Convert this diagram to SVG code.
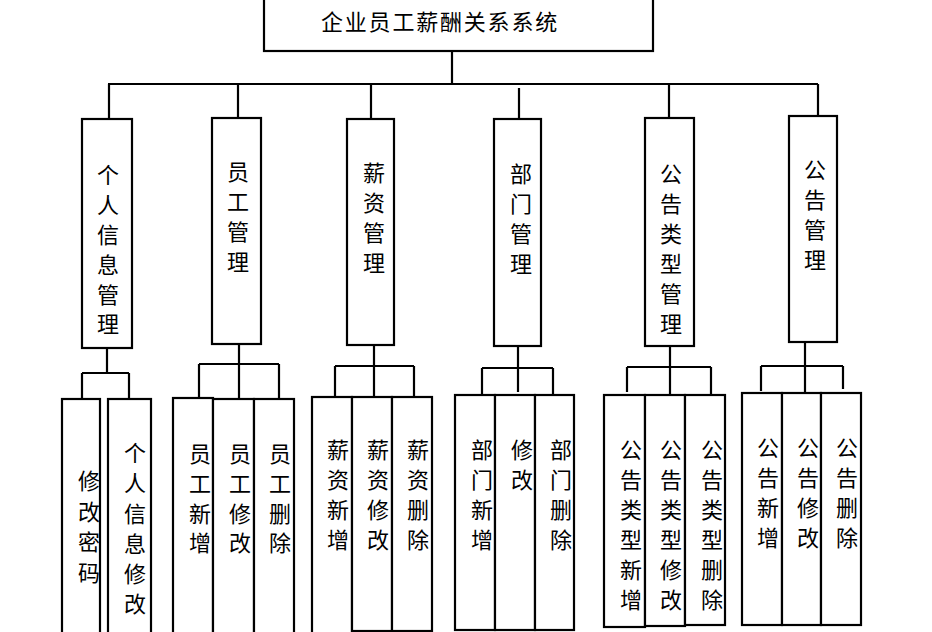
<svg xmlns="http://www.w3.org/2000/svg" width="932" height="632" viewBox="0 0 932 632">
<style>
.box{fill:#fff;stroke:#000;stroke-width:2.2}
.ln{fill:none;stroke:#000;stroke-width:2.2}
text{font-family:"Noto Sans CJK SC","Noto Sans CJK JP",sans-serif;font-size:22px;fill:#000;text-anchor:middle;dominant-baseline:central}
.title{text-anchor:start;letter-spacing:1.8px}
</style>
<rect width="932" height="632" fill="#fff"/>
<g id="connectors">
<path class="ln" d="M452 51V84M108 84H818M109 84V119M238 84V118M371 84V119M519 88V119M669 84V118M818 84V116"/>
<path class="ln" d="M107 348V373M82 373H129M82 373V399M129 373V399"/>
<path class="ln" d="M239 344V399M199 364H279M199 364V398M279 364V399"/>
<path class="ln" d="M374 345V397M335 366H414M335 366V397M414 366V397"/>
<path class="ln" d="M518 346V392M482 368H553M482 368V395M553 368V395"/>
<path class="ln" d="M670 346V395M627 367H711M627 367V392M711 367V395"/>
<path class="ln" d="M805 342V393M761 366H843M761 366V391M843 366V389"/>
</g>
<g id="root">
<rect class="box" x="264" y="-3" width="389" height="54"/>
<text class="title" x="321" y="20">企业员工薪酬关系系统</text>
</g>
<g id="n-personal">
<rect class="box" x="82" y="119" width="50" height="229"/>
<text><tspan x="108" y="172.5">个</tspan><tspan x="108" y="202.5">人</tspan><tspan x="108" y="232.5">信</tspan><tspan x="108" y="262.5">息</tspan><tspan x="108" y="292.5">管</tspan><tspan x="108" y="322">理</tspan></text>
</g>
<g id="n-staff">
<rect class="box" x="212" y="118" width="49" height="226"/>
<text><tspan x="238" y="170">员</tspan><tspan x="238" y="200">工</tspan><tspan x="238" y="230">管</tspan><tspan x="238" y="260">理</tspan></text>
</g>
<g id="n-salary">
<rect class="box" x="347" y="119" width="47" height="226"/>
<text><tspan x="374" y="171">薪</tspan><tspan x="374" y="201">资</tspan><tspan x="374" y="231">管</tspan><tspan x="374" y="261">理</tspan></text>
</g>
<g id="n-dept">
<rect class="box" x="494" y="119" width="47" height="227"/>
<text><tspan x="521" y="172">部</tspan><tspan x="521" y="202">门</tspan><tspan x="521" y="232">管</tspan><tspan x="521" y="262">理</tspan></text>
</g>
<g id="n-noticetype">
<rect class="box" x="645" y="118" width="49" height="228"/>
<text><tspan x="671" y="172">公</tspan><tspan x="671" y="202">告</tspan><tspan x="671" y="232">类</tspan><tspan x="671" y="262">型</tspan><tspan x="671" y="292">管</tspan><tspan x="671" y="322">理</tspan></text>
</g>
<g id="n-notice">
<rect class="box" x="789" y="116" width="48" height="226"/>
<text><tspan x="815" y="168">公</tspan><tspan x="815" y="198">告</tspan><tspan x="815" y="228">管</tspan><tspan x="815" y="258">理</tspan></text>
</g>
<g id="n-pwd">
<rect class="box" x="62" y="399" width="38" height="250"/>
<text><tspan x="89" y="479">修</tspan><tspan x="89" y="509.5">改</tspan><tspan x="89" y="540">密</tspan><tspan x="89" y="571">码</tspan></text>
</g>
<g id="n-infoedit">
<rect class="box" x="108" y="399" width="43" height="250"/>
<text><tspan x="135" y="451">个</tspan><tspan x="135" y="481">人</tspan><tspan x="135" y="511.5">信</tspan><tspan x="135" y="542">息</tspan><tspan x="135" y="572">修</tspan><tspan x="135" y="602">改</tspan></text>
</g>
<g id="n-staffadd">
<rect class="box" x="173" y="398" width="40" height="250"/>
<text><tspan x="200" y="452">员</tspan><tspan x="200" y="482">工</tspan><tspan x="200" y="512">新</tspan><tspan x="200" y="541">增</tspan></text>
</g>
<g id="n-staffedit">
<rect class="box" x="213" y="399" width="41" height="250"/>
<text><tspan x="240" y="452">员</tspan><tspan x="240" y="482">工</tspan><tspan x="240" y="512">修</tspan><tspan x="240" y="541">改</tspan></text>
</g>
<g id="n-staffdel">
<rect class="box" x="254" y="399" width="40" height="250"/>
<text><tspan x="280" y="452">员</tspan><tspan x="280" y="482">工</tspan><tspan x="280" y="512">删</tspan><tspan x="280" y="541">除</tspan></text>
</g>
<g id="n-saladd">
<rect class="box" x="312" y="397" width="40" height="250"/>
<text><tspan x="338" y="448">薪</tspan><tspan x="338" y="478">资</tspan><tspan x="338" y="508">新</tspan><tspan x="338" y="538">增</tspan></text>
</g>
<g id="n-saledit">
<rect class="box" x="352" y="397" width="40" height="234"/>
<text><tspan x="378" y="448">薪</tspan><tspan x="378" y="478">资</tspan><tspan x="378" y="508">修</tspan><tspan x="378" y="538">改</tspan></text>
</g>
<g id="n-saldel">
<rect class="box" x="392" y="397" width="40" height="234"/>
<text><tspan x="418" y="448">薪</tspan><tspan x="418" y="478">资</tspan><tspan x="418" y="508">删</tspan><tspan x="418" y="538">除</tspan></text>
</g>
<g id="n-deptadd">
<rect class="box" x="455" y="395" width="40" height="235"/>
<text><tspan x="482" y="448">部</tspan><tspan x="482" y="478">门</tspan><tspan x="482" y="508">新</tspan><tspan x="482" y="538">增</tspan></text>
</g>
<g id="n-deptedit">
<rect class="box" x="495" y="395" width="40" height="235"/>
<text><tspan x="522" y="448">修</tspan><tspan x="522" y="478">改</tspan></text>
</g>
<g id="n-deptdel">
<rect class="box" x="535" y="395" width="39" height="235"/>
<text><tspan x="561" y="448">部</tspan><tspan x="561" y="478">门</tspan><tspan x="561" y="508">删</tspan><tspan x="561" y="538">除</tspan></text>
</g>
<g id="n-ntadd">
<rect class="box" x="604" y="395" width="41" height="232"/>
<text><tspan x="631" y="448">公</tspan><tspan x="631" y="478">告</tspan><tspan x="631" y="508">类</tspan><tspan x="631" y="538">型</tspan><tspan x="631" y="568">新</tspan><tspan x="631" y="598">增</tspan></text>
</g>
<g id="n-ntedit">
<rect class="box" x="645" y="395" width="40" height="231"/>
<text><tspan x="671" y="448">公</tspan><tspan x="671" y="478">告</tspan><tspan x="671" y="508">类</tspan><tspan x="671" y="538">型</tspan><tspan x="671" y="568">修</tspan><tspan x="671" y="598">改</tspan></text>
</g>
<g id="n-ntdel">
<rect class="box" x="685" y="395" width="40" height="230"/>
<text><tspan x="712" y="448">公</tspan><tspan x="712" y="478">告</tspan><tspan x="712" y="508">类</tspan><tspan x="712" y="538">型</tspan><tspan x="712" y="568">删</tspan><tspan x="712" y="598">除</tspan></text>
</g>
<g id="n-nadd">
<rect class="box" x="742" y="393" width="40" height="232"/>
<text><tspan x="768" y="446">公</tspan><tspan x="768" y="476">告</tspan><tspan x="768" y="506">新</tspan><tspan x="768" y="536">增</tspan></text>
</g>
<g id="n-nedit">
<rect class="box" x="782" y="393" width="39" height="232"/>
<text><tspan x="808" y="446">公</tspan><tspan x="808" y="476">告</tspan><tspan x="808" y="506">修</tspan><tspan x="808" y="536">改</tspan></text>
</g>
<g id="n-ndel">
<rect class="box" x="821" y="393" width="40" height="232"/>
<text><tspan x="847" y="446">公</tspan><tspan x="847" y="476">告</tspan><tspan x="847" y="506">删</tspan><tspan x="847" y="536">除</tspan></text>
</g>
</svg>
